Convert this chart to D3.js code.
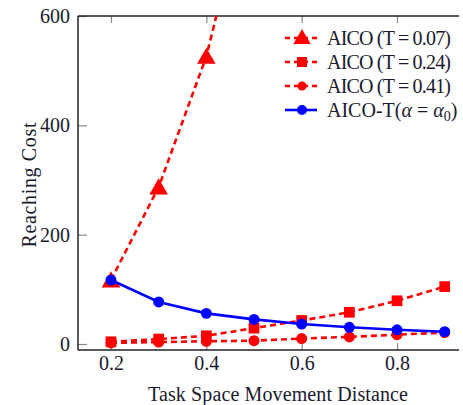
<!DOCTYPE html>
<html>
<head>
<meta charset="utf-8">
<script src="https://cdn.jsdelivr.net/npm/d3@7/dist/d3.min.js"></script>
<style>
  html, body { margin: 0; padding: 0; background: #fff; }
  svg { display: block; }
  text { font-family: "Liberation Serif", "DejaVu Serif", serif; fill: #1a1a2e; }
</style>
</head>
<body>
<svg id="chart" width="463" height="405"></svg>
<script>
// Movement distances (x values)
const distances = [0.2, 0.3, 0.4, 0.5, 0.6, 0.7, 0.8, 0.9];

// Reaching cost per method
const aicoT007 = [117, 287, 526, 880, null, null, null, null];
const aicoT024 = [4, 9, 15, 29, 43, 58, 79, 105];
const aicoT041 = [2, 3.5, 5, 6, 10, 13, 17, 21];
const aicoTAlpha = [117, 77, 56, 45, 36.5, 30.5, 26, 22.5];

const seriesNames = ["AICO (T = 0.07)", "AICO (T = 0.24)", "AICO (T = 0.41)", "AICO-T"];
const xTicks = [0.2, 0.4, 0.6, 0.8];
const yTicks = [0, 200, 400, 600];

const svg = d3.select("#chart");
const plotL = 78, plotR = 459, plotT = 16, plotB = 350;
const fontSize = "20px";

const x = d3.scaleLinear().domain([0.1308, 0.930]).range([plotL, plotR]);
const y = d3.scaleLinear().domain([-11, 600]).range([plotB, plotT]);

svg.append("defs").append("clipPath").attr("id", "plotClip")
  .append("rect").attr("x", plotL).attr("y", plotT)
  .attr("width", plotR - plotL).attr("height", plotB - plotT);

// Axes with inward ticks
const tickColor = "#888";
const bottomAxis = svg.append("g").attr("transform", `translate(0,${plotB})`)
  .call(d3.axisBottom(x).tickValues(xTicks).tickSize(-7).tickPadding(6)
    .tickFormat(d3.format(".1f")));
const topAxis = svg.append("g").attr("transform", `translate(0,${plotT})`)
  .call(d3.axisTop(x).tickValues(xTicks).tickSize(-7).tickFormat(""));
const leftAxis = svg.append("g").attr("transform", `translate(${plotL},0)`)
  .call(d3.axisLeft(y).tickValues(yTicks).tickSize(-9).tickPadding(8)
    .tickFormat(d3.format("d")));

[bottomAxis, topAxis, leftAxis].forEach(g => {
  g.select(".domain").remove();
  g.selectAll(".tick line").attr("stroke", tickColor).attr("stroke-width", 1.2);
  g.selectAll(".tick text").style("font-size", fontSize)
    .style("font-family", '"Liberation Serif", serif').attr("fill", "#1a1a3a");
});

// Frame: left, top and bottom lines
const frame = svg.append("g").attr("stroke", "#222").attr("stroke-width", 1.5).attr("fill", "none");
frame.append("line").attr("x1", plotL).attr("x2", plotL).attr("y1", plotT).attr("y2", plotB);
frame.append("line").attr("x1", plotL).attr("x2", plotR).attr("y1", plotT).attr("y2", plotT);
frame.append("line").attr("x1", plotL).attr("x2", plotR).attr("y1", plotB).attr("y2", plotB);

// Axis titles
svg.append("text").attr("x", 278).attr("y", 401)
  .attr("text-anchor", "middle").style("font-size", fontSize)
  .attr("textLength", 260).attr("lengthAdjust", "spacing")
  .text("Task Space Movement Distance");
svg.append("text").attr("transform", `translate(36,185) rotate(-90)`)
  .attr("text-anchor", "middle").style("font-size", fontSize)
  .attr("textLength", 125).attr("lengthAdjust", "spacing")
  .text("Reaching Cost");

const plot = svg.append("g").attr("clip-path", "url(#plotClip)");

const series = [
  { name: seriesNames[0], values: aicoT007, color: "#ff0000", dash: "6,4", shape: d3.symbolTriangle, size: 150 },
  { name: seriesNames[1], values: aicoT024, color: "#ff0000", dash: "6,4", shape: d3.symbolSquare, size: 115 },
  { name: seriesNames[2], values: aicoT041, color: "#ff0000", dash: "6,4", shape: d3.symbolCircle, size: 95 },
  { name: seriesNames[3], values: aicoTAlpha, color: "#0000ff", dash: null, shape: d3.symbolCircle, size: 95 }
];

const line = d3.line()
  .defined(d => d[1] != null)
  .x(d => x(d[0])).y(d => y(d[1]));

series.forEach(s => {
  const pts = distances.map((d, i) => [d, s.values[i]]).filter(p => p[1] != null);
  plot.append("path").datum(pts)
    .attr("fill", "none").attr("stroke", s.color).attr("stroke-width", 2.6)
    .attr("stroke-dasharray", s.dash)
    .attr("d", line);
  plot.selectAll(null).data(pts).enter().append("path")
    .attr("transform", d => `translate(${x(d[0])},${y(d[1]) + (s.shape === d3.symbolTriangle ? 2 : 0)})`)
    .attr("d", d3.symbol().type(s.shape).size(s.size))
    .attr("fill", s.color);
});

// Legend
const legend = svg.append("g");
const legendY = [38, 62, 86, 110];
const legendSizes = [130, 100, 64, 78];
series.forEach((s, i) => {
  const g = legend.append("g").attr("transform", `translate(0,${legendY[i]})`);
  g.append("line").attr("x1", 285).attr("x2", 317).attr("y1", 0).attr("y2", 0)
    .attr("stroke", s.color).attr("stroke-width", 2.6)
    .attr("stroke-dasharray", s.dash ? "5,4" : null);
  g.append("path").attr("transform", `translate(302,${s.shape === d3.symbolTriangle ? 1 : 0})`)
    .attr("d", d3.symbol().type(s.shape).size(legendSizes[i]))
    .attr("fill", s.color);
  const t = g.append("text").attr("x", 327).attr("y", 6.5).style("font-size", fontSize);
  if (i < 3) {
    t.attr("textLength", 124).attr("lengthAdjust", "spacing").text(s.name);
  } else {
    t.append("tspan").text("AICO-T(");
    t.append("tspan").style("font-style", "italic").text("α");
    t.append("tspan").text(" = ");
    t.append("tspan").style("font-style", "italic").text("α");
    t.append("tspan").attr("dy", 4).style("font-size", "14px").text("0");
    t.append("tspan").attr("dy", -4).text(")");
  }
});
</script>
</body>
</html>
